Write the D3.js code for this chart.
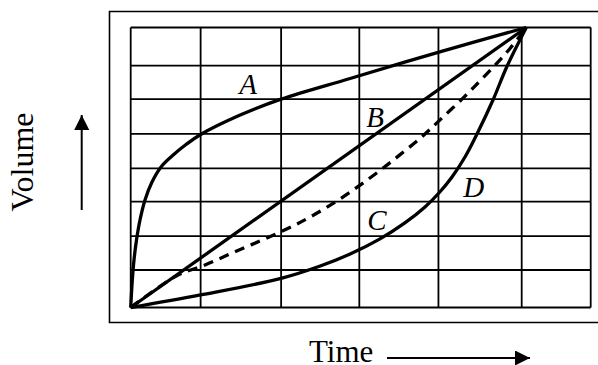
<!DOCTYPE html>
<html>
<head>
<meta charset="utf-8">
<script src="https://cdn.jsdelivr.net/npm/d3@7"></script>
<style>
  body { margin:0; background:#fff; }
  svg text { font-family:"Liberation Serif","Times New Roman",serif; fill:#000; }
</style>
</head>
<body>
<div id="chart"></div>
<script>
// grid positions (time / volume units, 0..100)
var gridX = [0, 15.2, 32.7, 49.7, 66.9, 85, 100];
var gridY = [0, 13.4, 25.5, 37.8, 49.7, 62.0, 74.4, 86.4, 100];

// curves
var curveA = [[0,0],[0.35,9.8],[0.72,17],[1.26,24.1],[2.02,31.25],[3.11,38.4],[4.63,44.8],[6.59,50.2],
  [8.98,54.1],[12.02,58.2],[15.2,61.8],[23.8,68.75],[32.7,74.4],[47.7,81.8],[67.2,91.3],[86,100]];
var curveB = [[0,0],[86,100]];
var curveC = [[0,0],[10,11.3],[16.15,15.2],[22.24,19.6],[28.1,23.75],[33.9,28.0],[38.98,32.3],[45.5,38.75],
  [53.76,48.4],[58.5,54.5],[63.26,60.9],[67.24,67],[72.24,74.8],[75.93,80.9],[79.63,87.3],[82.46,92.5],[86,100]];
var curveD = [[0,0],[15.2,4.5],[32.7,10.4],[41.2,14.8],[47.7,19.1],[54.2,24.5],[59.6,30.2],[63.98,35.9],
  [67.2,41.25],[69.85,46.6],[72.67,53.75],[75.28,61.96],[78.76,74.1],[81.74,85.9],[86,100]];

var labels = [
  {t:"A", x:23.6, y:76.3},
  {t:"B", x:51.2, y:64.6},
  {t:"C", x:51.4, y:27.7},
  {t:"D", x:72.3, y:39.6}
];

var width = 598, height = 365;
var plot = {left:130.7, right:590.7, top:27.5, bottom:307.5};

var x = d3.scaleLinear().domain([0,100]).range([plot.left, plot.right]);
var y = d3.scaleLinear().domain([0,100]).range([plot.bottom, plot.top]);

var svg = d3.select("#chart").append("svg")
    .attr("width", width)
    .attr("height", height);

svg.append("defs").append("marker")
    .attr("id", "arrow")
    .attr("viewBox", "0 0 10 10")
    .attr("refX", 10).attr("refY", 5)
    .attr("markerUnits", "userSpaceOnUse")
    .attr("markerWidth", 15).attr("markerHeight", 15)
    .attr("orient", "auto")
  .append("path")
    .attr("d", "M0,0 L10,5 L0,10 Z")
    .attr("fill", "#000");

// outer frame (runs off the right edge)
svg.append("path")
    .attr("d", "M610,11.5 H109.5 V322.5 H610")
    .attr("fill", "none")
    .attr("stroke", "#000")
    .attr("stroke-width", 1.6);

// grid
svg.selectAll(".vline").data(gridX).enter().append("line")
    .attr("class", "vline")
    .attr("x1", d => x(d)).attr("x2", d => x(d))
    .attr("y1", y(0)).attr("y2", y(100))
    .attr("stroke", "#000").attr("stroke-width", 1.8);

svg.selectAll(".hline").data(gridY).enter().append("line")
    .attr("class", "hline")
    .attr("y1", d => y(d)).attr("y2", d => y(d))
    .attr("x1", x(0)).attr("x2", x(100))
    .attr("stroke", "#000").attr("stroke-width", 1.8);

var line = d3.line()
    .x(d => x(d[0]))
    .y(d => y(d[1]))
    .curve(d3.curveCatmullRom.alpha(0.5));

[curveA, curveB, curveD].forEach(function(c) {
  svg.append("path")
      .datum(c)
      .attr("d", line)
      .attr("fill", "none")
      .attr("stroke", "#000")
      .attr("stroke-width", 3.3)
      .attr("stroke-linejoin", "round");
});

svg.append("path")
    .datum(curveC)
    .attr("d", line)
    .attr("fill", "none")
    .attr("stroke", "#000")
    .attr("stroke-width", 3.3)
    .attr("stroke-dasharray", "10,7");

svg.selectAll(".lbl").data(labels).enter().append("text")
    .attr("class", "lbl")
    .attr("x", d => x(d.x))
    .attr("y", d => y(d.y))
    .style("font-size", "29px")
    .style("font-style", "italic")
    .text(d => d.t);

// axis titles with arrows
svg.append("text")
    .attr("transform", "translate(33,162) rotate(-90)")
    .style("text-anchor", "middle")
    .style("font-size", "32px")
    .text("Volume");

svg.append("line")
    .attr("x1", 81.7).attr("x2", 81.7)
    .attr("y1", 210).attr("y2", 115)
    .attr("stroke", "#000").attr("stroke-width", 2)
    .attr("marker-end", "url(#arrow)");

svg.append("text")
    .attr("x", 309)
    .attr("y", 362)
    .style("font-size", "31px")
    .text("Time");

svg.append("line")
    .attr("x1", 387).attr("x2", 530)
    .attr("y1", 358).attr("y2", 358)
    .attr("stroke", "#000").attr("stroke-width", 2)
    .attr("marker-end", "url(#arrow)");
</script>
</body>
</html>
